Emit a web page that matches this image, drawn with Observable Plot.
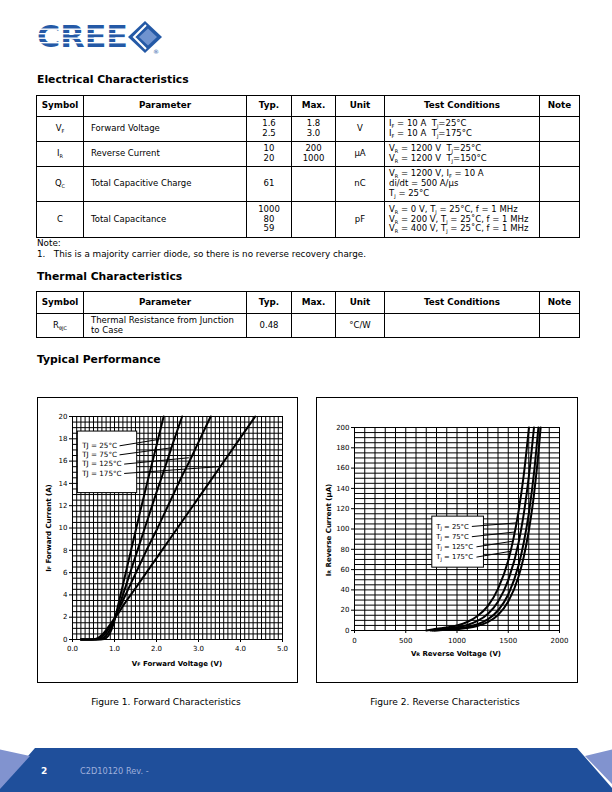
<!DOCTYPE html>
<html><head><meta charset="utf-8">
<script src="https://cdn.jsdelivr.net/npm/d3@7"></script>
<script src="https://cdn.jsdelivr.net/npm/@observablehq/plot@0.6"></script>
<style>
body{margin:0;background:#fff;}
#page{position:relative;width:612px;height:792px;overflow:hidden;font-family:"DejaVu Sans",sans-serif;color:#000;background:#fff;}
.h{position:absolute;left:37px;font-weight:bold;font-size:10.8px;line-height:12px;white-space:nowrap;}
.txt{position:absolute;font-size:8.8px;line-height:10px;white-space:nowrap;}
table{position:absolute;left:36px;border-collapse:collapse;table-layout:fixed;width:543px;font-size:8.5px;}
td,th{border:1px solid #000;padding:0 4px;line-height:9.8px;vertical-align:middle;white-space:nowrap;overflow:hidden;}
th{font-weight:bold;font-size:8.8px;text-align:center;}
td.c{text-align:center;}
td.l{text-align:left;padding-left:7px;}
sub{font-size:5px;vertical-align:-1.5px;line-height:0;}
.box{position:absolute;border:1px solid #000;box-sizing:border-box;}
.plot{position:absolute;}
.cap{position:absolute;font-size:9.1px;line-height:10px;white-space:nowrap;transform:translateX(-50%);}
</style></head>
<body><div id="page">

<svg width="135" height="36" style="position:absolute;left:35px;top:19px">
  <text x="2" y="28" font-family="DejaVu Sans" font-weight="bold" font-size="31" fill="#2459a6" textLength="91" lengthAdjust="spacingAndGlyphs">CREE</text>
  <rect x="0" y="9.5" width="95" height="1.4" fill="#fff"/>
  <rect x="0" y="14" width="95" height="1.4" fill="#fff"/>
  <rect x="0" y="18.5" width="95" height="1.4" fill="#fff"/>
  <rect x="0" y="23" width="95" height="1.4" fill="#fff"/>
  <polygon points="93,18 110,2 127,18 110,34" fill="#2459a6"/>
  <polyline points="111,6 99,18 111,30" fill="none" stroke="#fff" stroke-width="2"/>
  <polygon points="104,18 113,9.5 122,18 113,26.5" fill="#6f93cf"/>
  <text x="118" y="35" font-size="6" font-family="DejaVu Sans" fill="#2459a6">®</text>
</svg>

<div class="h" style="top:74px">Electrical Characteristics</div>
<table style="top:95px">
<colgroup><col style="width:47px"><col style="width:163px"><col style="width:45px"><col style="width:44px"><col style="width:49px"><col style="width:155px"><col style="width:40px"></colgroup>
<tr style="height:21px"><th>Symbol</th><th>Parameter</th><th>Typ.</th><th>Max.</th><th>Unit</th><th>Test Conditions</th><th>Note</th></tr>
<tr style="height:25px"><td class="c">V<sub>F</sub></td><td class="l">Forward Voltage</td><td class="c">1.6<br>2.5</td><td class="c">1.8<br>3.0</td><td class="c">V</td><td>I<sub>F</sub> = 10 A&nbsp; T<sub>J</sub>=25°C<br>I<sub>F</sub> = 10 A&nbsp; T<sub>J</sub>=175°C</td><td></td></tr>
<tr style="height:25px"><td class="c">I<sub>R</sub></td><td class="l">Reverse Current</td><td class="c">10<br>20</td><td class="c">200<br>1000</td><td class="c">μA</td><td>V<sub>R</sub> = 1200 V&nbsp; T<sub>J</sub>=25°C<br>V<sub>R</sub> = 1200 V&nbsp; T<sub>J</sub>=150°C</td><td></td></tr>
<tr style="height:35px"><td class="c">Q<sub>C</sub></td><td class="l">Total Capacitive Charge</td><td class="c">61</td><td class="c"></td><td class="c">nC</td><td>V<sub>R</sub> = 1200 V, I<sub>F</sub> = 10 A<br>di/dt = 500 A/μs<br>T<sub>J</sub> = 25°C</td><td></td></tr>
<tr style="height:36px"><td class="c">C</td><td class="l">Total Capacitance</td><td class="c">1000<br>80<br>59</td><td class="c"></td><td class="c">pF</td><td>V<sub>R</sub> = 0 V, T<sub>J</sub> = 25°C, f = 1 MHz<br>V<sub>R</sub> = 200 V, T<sub>J</sub> = 25˚C, f = 1 MHz<br>V<sub>R</sub> = 400 V, T<sub>J</sub> = 25˚C, f = 1 MHz</td><td></td></tr>
</table>
<div class="txt" style="left:37px;top:238px">Note:</div>
<div class="txt" style="left:37px;top:249px">1.&nbsp;&nbsp;&nbsp;This is a majority carrier diode, so there is no reverse recovery charge.</div>

<div class="h" style="top:271px">Thermal Characteristics</div>
<table style="top:291px">
<colgroup><col style="width:47px"><col style="width:163px"><col style="width:45px"><col style="width:44px"><col style="width:49px"><col style="width:155px"><col style="width:40px"></colgroup>
<tr style="height:22px"><th>Symbol</th><th>Parameter</th><th>Typ.</th><th>Max.</th><th>Unit</th><th>Test Conditions</th><th>Note</th></tr>
<tr style="height:24px"><td class="c">R<sub>θJC</sub></td><td class="l">Thermal Resistance from Junction<br>to Case</td><td class="c">0.48</td><td class="c"></td><td class="c">°C/W</td><td></td><td></td></tr>
</table>

<div class="h" style="top:354px">Typical Performance</div>

<div class="box" style="left:37px;top:397px;width:261px;height:286px"></div>
<div class="box" style="left:316px;top:397px;width:262px;height:286px"></div>
<div id="fig1" class="plot" style="left:37px;top:397px"></div>
<div id="fig2" class="plot" style="left:316px;top:397px"></div>

<div class="cap" style="left:166px;top:697px">Figure 1. Forward Characteristics</div>
<div class="cap" style="left:445px;top:697px">Figure 2. Reverse Characteristics</div>

<svg width="612" height="44" style="position:absolute;left:0;top:748px">
  <polygon points="35,0 577,0 612,40 612,44 0,44 0,40" fill="#1f4f9b"/>
  <polygon points="0,1.5 30,8 0,41" fill="#8193cf"/>
  <polygon points="612,1.5 585,8 612,36" fill="#8193cf"/>
  <text x="41" y="26" font-family="DejaVu Sans" font-weight="bold" font-size="9" fill="#fff">2</text>
  <text x="80" y="26" font-family="DejaVu Sans" font-size="8.2" fill="#9fb0dc">C2D10120 Rev. -</text>
</svg>
</div>

<script>
// ---------- Figure 1: forward characteristics ----------
const fwdTemps = ["25°C", "75°C", "125°C", "175°C"];
const fwdV25 = [0.2, 0.6, 0.75, 0.82, 0.88, 0.94, 1.0, 1.05, 1.1, 1.2, 1.4, 1.6, 1.8, 2.0, 2.17];
const fwdI25 = [0, 0, 0.05, 0.2, 0.5, 1.0, 1.7, 2.5, 3.3, 4.9, 8.1, 11.3, 14.4, 17.4, 20];
const fwdV75 = [0.2, 0.55, 0.7, 0.8, 0.88, 0.95, 1.0, 1.05, 1.1, 1.2, 1.4, 1.6, 1.8, 2.0, 2.2, 2.4, 2.61];
const fwdI75 = [0, 0, 0.08, 0.35, 0.8, 1.3, 1.8, 2.3, 2.9, 4.0, 6.3, 8.6, 10.9, 13.2, 15.4, 17.7, 20];
const fwdV125 = [0.2, 0.5, 0.65, 0.75, 0.85, 0.95, 1.0, 1.1, 1.2, 1.4, 1.6, 1.8, 2.0, 2.2, 2.4, 2.6, 2.8, 3.0, 3.29];
const fwdI125 = [0, 0, 0.1, 0.4, 0.9, 1.5, 1.9, 2.7, 3.5, 5.1, 6.7, 8.3, 9.8, 11.4, 13.0, 14.6, 16.1, 17.7, 20];
const fwdV175 = [0.2, 0.45, 0.6, 0.7, 0.8, 0.9, 1.0, 1.1, 1.2, 1.5, 2.0, 2.5, 3.0, 3.5, 4.0, 4.35];
const fwdI175 = [0, 0, 0.12, 0.4, 0.85, 1.35, 1.9, 2.4, 3.0, 4.6, 7.3, 10.0, 12.7, 15.4, 18.1, 20];
const fwdXTicks = [0, 1, 2, 3, 4, 5];
const fwdYTicks = [0, 2, 4, 6, 8, 10, 12, 14, 16, 18, 20];
const fwdLegendLabelI = [17.37, 16.56, 15.73, 14.89];
const fwdLeaderStartV = [1.12, 1.12, 1.23, 1.23];
const fwdLeaderEndV = [2.03, 2.37, 2.77, 3.48];
const fwdLeaderEndI = [17.93, 17.2, 16.3, 15.5];
const fwdLegendBox = [{x1: 0.127, x2: 1.54, y1: 13.13, y2: 18.65}];

// ---------- Figure 2: reverse characteristics ----------
const revTemps = ["25°C", "75°C", "125°C", "175°C"];
const revV25 = [700, 800, 900, 1000, 1100, 1200, 1300, 1400, 1500, 1550, 1600, 1650, 1702];
const revI25 = [0, 1.7, 2.9, 5.0, 8.4, 14.3, 24, 41, 69, 90, 117, 152, 200];
const revV75 = [740, 900, 1000, 1100, 1200, 1300, 1400, 1500, 1600, 1650, 1700, 1751];
const revI75 = [0, 1.8, 3.1, 5.4, 9.4, 16.3, 28.4, 49.6, 86, 114, 151, 200];
const revV125 = [760, 900, 1000, 1100, 1200, 1300, 1400, 1500, 1600, 1650, 1700, 1750, 1794];
const revI125 = [0, 1.0, 1.9, 3.4, 6.1, 10.9, 19.7, 35.5, 64, 86, 115, 154, 200];
const revV175 = [780, 900, 1000, 1100, 1200, 1300, 1400, 1500, 1600, 1650, 1700, 1750, 1800, 1816];
const revI175 = [0, 0.7, 1.3, 2.4, 4.5, 8.2, 15.3, 28.5, 53, 72, 98, 133, 181, 200];
const revXTicks = [0, 500, 1000, 1500, 2000];
const revYTicks = [0, 20, 40, 60, 80, 100, 120, 140, 160, 180, 200];
const revLegendLabelI = [102.5, 92.4, 82.4, 72.3];
const revLeaderStartV = [1145, 1145, 1190, 1190];
const revLeaderEndV = [1575, 1560, 1545, 1520];
const revLeaderEndI = [106, 97, 88, 78];
const revLegendBox = [{x1: 759, x2: 1263, y1: 61.9, y2: 112.2}];

const font = "DejaVu Sans";

function series(temps, vs, is) {
  return temps.flatMap((t, k) => vs[k].map((v, j) => ({t, v, i: is[k][j]})));
}
function subscriptify(sel, re) {
  sel.each(function() {
    const el = d3.select(this);
    const s = el.text();
    const m = s.match(re);
    if (!m) return;
    el.text(null);
    el.append("tspan").text(m[1]);
    el.append("tspan").attr("font-size", "4.8px").attr("dy", "1.4").text(m[2]);
    el.append("tspan").attr("dy", "-1.4").text(m[3]);
  });
}
function addTitles(svg, xt, yt) {
  const s = d3.select(svg);
  const g = s.append("g").attr("font-family", font).attr("font-weight", "bold").attr("font-size", "7px").attr("fill", "black");
  g.append("text").attr("x", xt.x).attr("y", xt.y).attr("text-anchor", "middle").attr("dominant-baseline", "middle").text(xt.text);
  g.append("text").attr("transform", `translate(${yt.x},${yt.y}) rotate(-90)`).attr("text-anchor", "middle").attr("dominant-baseline", "middle").text(yt.text);
  subscriptify(g.selectAll("text"), /^(.)(.)( .*)$/);
}

// Figure 1
const fwdData = series(fwdTemps, [fwdV25, fwdV75, fwdV125, fwdV175], [fwdI25, fwdI75, fwdI125, fwdI175]);
const fwdLegend = fwdTemps.map((t, k) => ({label: "TJ = " + t, y: fwdLegendLabelI[k], sv: fwdLeaderStartV[k], ev: fwdLeaderEndV[k], ei: fwdLeaderEndI[k]}));
const fig1 = Plot.plot({
  width: 260, height: 285,
  marginLeft: 35, marginRight: 15, marginTop: 19, marginBottom: 43,
  style: {fontFamily: font, fontSize: "7px", background: "transparent", color: "black"},
  x: {domain: [0, 5]},
  y: {domain: [0, 20]},
  marks: [
    Plot.gridX(d3.range(0, 5.001, 0.1), {stroke: "black", strokeOpacity: 1, strokeWidth: 1}),
    Plot.gridY(d3.range(0, 20.001, 0.5), {stroke: "black", strokeOpacity: 1, strokeWidth: 1}),
    Plot.line(fwdData, {x: "v", y: "i", z: "t", stroke: "black", strokeWidth: 2, curve: "monotone-x"}),
    Plot.rect(fwdLegendBox, {x1: "x1", x2: "x2", y1: "y1", y2: "y2", fill: "white", stroke: "black", strokeWidth: 1}),
    Plot.link(fwdLegend, {x1: "sv", y1: "y", x2: "ev", y2: "ei", stroke: "black", strokeWidth: 1}),
    Plot.text(fwdLegend, {x: 0.23, y: "y", text: "label", textAnchor: "start", fontSize: 7.2, fill: "black"}),
    Plot.frame({stroke: "black"}),
    Plot.axisX(fwdXTicks, {tickSize: 3, tickPadding: 4, tickFormat: d => d.toFixed(1), label: null}),
    Plot.axisY(fwdYTicks, {tickSize: 3, tickPadding: 2, label: null})
  ]
});
addTitles(fig1, {x: 140, y: 267, text: "VF Forward Voltage (V)"}, {x: 11.5, y: 131, text: "IF Forward Current (A)"});
document.getElementById("fig1").append(fig1);

// Figure 2
const revData = series(revTemps, [revV25, revV75, revV125, revV175], [revI25, revI75, revI125, revI175]);
const revLegend = revTemps.map((t, k) => ({label: "TJ = " + t, y: revLegendLabelI[k], sv: revLeaderStartV[k], ev: revLeaderEndV[k], ei: revLeaderEndI[k]}));
const fig2 = Plot.plot({
  width: 261, height: 285,
  marginLeft: 38, marginRight: 18, marginTop: 30, marginBottom: 52,
  style: {fontFamily: font, fontSize: "7px", background: "transparent", color: "black"},
  x: {domain: [0, 2000]},
  y: {domain: [0, 200]},
  marks: [
    Plot.gridX(d3.range(0, 2001, 100), {stroke: "black", strokeOpacity: 1, strokeWidth: 1}),
    Plot.gridY(d3.range(0, 201, 5), {stroke: "black", strokeOpacity: 1, strokeWidth: 1}),
    Plot.line(revData, {x: "v", y: "i", z: "t", stroke: "black", strokeWidth: 2, curve: "monotone-x"}),
    Plot.rect(revLegendBox, {x1: "x1", x2: "x2", y1: "y1", y2: "y2", fill: "white", stroke: "black", strokeWidth: 1}),
    Plot.link(revLegend, {x1: "sv", y1: "y", x2: "ev", y2: "ei", stroke: "black", strokeWidth: 1}),
    Plot.text(revLegend, {x: 798, y: "y", text: "label", textAnchor: "start", fontSize: 6.8, fill: "black"}),
    Plot.axisX(revXTicks, {tickSize: 3, tickPadding: 5, tickFormat: d => String(d), label: null}),
    Plot.axisY(revYTicks, {tickSize: 3, tickPadding: 2, label: null})
  ]
});
subscriptify(d3.select(fig2).selectAll("text").filter(function() { return d3.select(this).text().startsWith("TJ"); }), /^(T)(J)( .*)$/);
addTitles(fig2, {x: 140, y: 257, text: "VR Reverse Voltage (V)"}, {x: 12.5, y: 133, text: "IR Reverse Current (μA)"});
document.getElementById("fig2").append(fig2);
</script>
</body></html>
